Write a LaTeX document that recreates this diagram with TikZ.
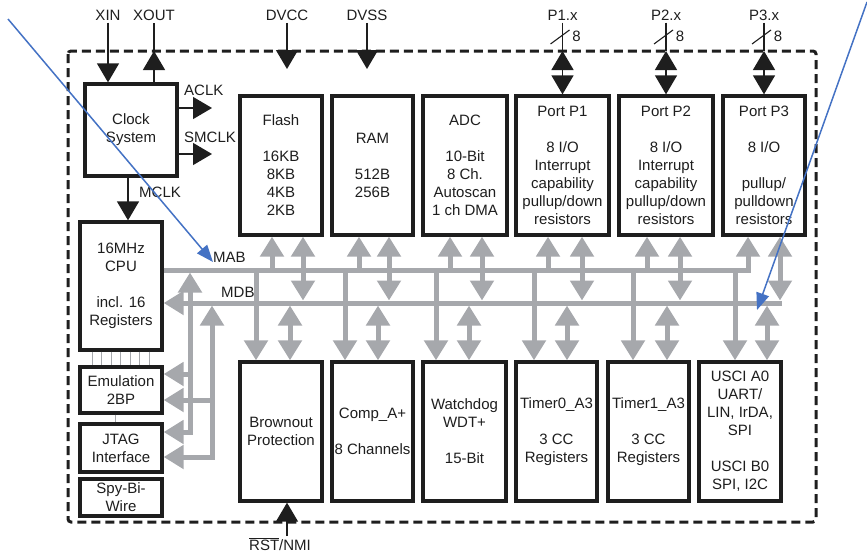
\documentclass[tikz,border=0pt]{standalone}
\usepackage{fontspec}
\setmainfont{Liberation Sans}
\usetikzlibrary{arrows.meta}
\definecolor{ink}{RGB}{30,30,30}
\definecolor{busgray}{RGB}{166,168,172}
\definecolor{notecol}{RGB}{68,114,196}
\begin{document}
\begin{tikzpicture}[x=1pt,y=-1pt,
  font=\fontsize{15}{18}\selectfont,
  every node/.style={text=ink},
  block/.style={draw=ink, fill=white, line width=3.3pt, inner sep=0pt, align=center},
  sig/.style={draw=ink, line width=1.4pt},
  bus/.style={draw=busgray, line width=5pt, line join=miter},
  note/.style={draw=notecol, line width=1.5pt, -{Triangle[width=13pt,length=17pt]}},
  tipb/.tip={Triangle[width=22pt,length=19pt]},
  tipg/.tip={Triangle[width=23pt,length=20pt]},
  lbl/.style={anchor=base, inner sep=2pt},
  lblw/.style={anchor=base west, inner sep=0pt}]
\useasboundingbox (0,0) rectangle (867,552);

% chip outline
\draw[ink, line width=3pt, dash pattern=on 9pt off 5pt, rounded corners=3pt] (68,51) rectangle (816,522);
\coordinate (edge) at (0,51);
\coordinate (feed) at (0,69);

% left column
\node[block, minimum width=92pt, minimum height=92pt] (clk) at (131,130) {Clock\\System};
\node[block, minimum width=82pt, minimum height=128pt] (cpu) at (121,286) {16MHz\\CPU\\~\\incl. 16\\Registers};
\node[block, minimum width=82pt, minimum height=46pt] (emu) at (121,390) {Emulation\\2BP};
\node[block, minimum width=82pt, minimum height=48pt] (jtag) at (121,448) {JTAG\\Interface};
\node[block, minimum width=82pt, minimum height=37pt] (sbw) at (121,497.5) {Spy-Bi-\\Wire};

% upper row of peripherals
\node[block, minimum width=82pt, minimum height=139pt] (flash) at (281,165.5) {Flash\\~\\16KB\\8KB\\4KB\\2KB};
\node[block, minimum width=81pt, minimum height=139pt] (ram) at (372.5,165.5) {RAM\\~\\512B\\256B};
\node[block, minimum width=84pt, minimum height=139pt] (adc) at (465,165.5) {ADC\\~\\10-Bit\\8 Ch.\\Autoscan\\1 ch DMA};
\node[block, minimum width=93pt, minimum height=139pt] (p1) at (562.5,165.5) {Port P1\\~\\8 I/O\\Interrupt\\capability\\pullup/down\\resistors};
\node[block, minimum width=94pt, minimum height=139pt] (p2) at (666,165.5) {Port P2\\~\\8 I/O\\Interrupt\\capability\\pullup/down\\resistors};
\node[block, minimum width=82pt, minimum height=139pt] (p3) at (764,165.5) {Port P3\\~\\8 I/O\\~\\pullup/\\pulldown\\resistors};

% lower row of peripherals
\node[block, minimum width=82pt, minimum height=139pt] (bo) at (281,431.5) {Brownout\\Protection};
\node[block, minimum width=81pt, minimum height=139pt] (comp) at (372.5,431.5) {Comp\_A+\\~\\8 Channels};
\node[block, minimum width=83pt, minimum height=139pt] (wdt) at (464.5,431.5) {Watchdog\\WDT+\\~\\15-Bit};
\node[block, minimum width=81pt, minimum height=139pt] (tza) at (556.5,431.5) {Timer0\_A3\\~\\3 CC\\Registers};
\node[block, minimum width=81pt, minimum height=139pt] (toa) at (648.5,431.5) {Timer1\_A3\\~\\3 CC\\Registers};
\node[block, minimum width=82pt, minimum height=139pt] (usci) at (740,431.5) {USCI A0\\UART/\\LIN, IrDA,\\SPI\\~\\USCI B0\\SPI, I2C};

% pin labels
\node[lbl] (xin) at (108,20.5) {XIN};
\node[lbl] (xout) at (154,20.5) {XOUT};
\node[lbl] (dvcc) at (287,20.5) {DVCC};
\node[lbl] (dvss) at (367,20.5) {DVSS};
\node[lbl] (p1x) at (562.5,20.5) {P1.x};
\node[lbl] (p2x) at (666,20.5) {P2.x};
\node[lbl] (p3x) at (764,20.5) {P3.x};
\node[lbl] (rst) at (280,550) {$\overline{\mbox{RST}}$/NMI};
\node[lblw] (aclk) at (184,95.5) {ACLK};
\node[lblw] (smclk) at (184,142.5) {SMCLK};
\node[lblw] (mclk) at (139,197.5) {MCLK};
\node[lblw] (mab) at (213,262.5) {MAB};
\node[lblw] (mdb) at (221,297.5) {MDB};

% clock and supply signals
\draw[sig, -{tipb}] (xin.south) -- (xin.south |- clk.north);
\draw[sig] (xout.south |- clk.north) -- (xout.south);
\draw[sig, -{tipb}] (xout.south |- clk.north) -- (xout.south |- edge);
\draw[sig, -{tipb}] (dvcc.south) -- (dvcc.south |- feed);
\draw[sig, -{tipb}] (dvss.south) -- (dvss.south |- feed);
\coordinate (aclkout) at (212,108);
\coordinate (smclkout) at (212,154);
\draw[sig, -{tipb}] (clk.east |- aclkout) -- (aclkout);
\draw[sig, -{tipb}] (clk.east |- smclkout) -- (smclkout);
\draw[sig, -{tipb}] (clk.south -| 128,0) -- (cpu.north -| 128,0);
\coordinate (rstin) at (287,536);
\draw[sig, -{tipb}] (rstin) -- (rstin |- bo.south);

% port pins, 8 bits wide
\foreach \p/\lab/\x in {p1/p1x/562.5, p2/p2x/666, p3/p3x/764} {
  \draw[sig] (\lab.south) -- (\lab.south |- edge);
  \draw[sig, {tipb}-{tipb}] (\lab.south |- edge) -- (\lab.south |- \p.north);
  \draw[ink, line width=1.1pt] (\x-12,44) -- (\x+7,30);
  \node[inner sep=0pt] at (\x+14,36) {8};
}

% address and data buses
\draw[bus, -{tipg}] (cpu.east |- 0,270) -- (748,270) -- (748,0 |- p3.south);
\draw[bus, -{tipg}] (782,303) -- (cpu.east |- 0,303);
\foreach \n/\a in {flash/272, ram/359, adc/450, p1/548, p2/647} {
  \draw[bus, -{tipg}] (\a,270) -- (\a,0 |- \n.south);
}
\foreach \n/\b in {flash/303, ram/389, adc/482, p1/582, p2/680, p3/780} {
  \draw[bus, {tipg}-{tipg}] (\b,0 |- \n.south) -- (\b,300.5);
}
\foreach \n/\a/\b in {bo/256/290, comp/345/378, wdt/436/469, tza/534/567, toa/633/667, usci/735/767} {
  \draw[bus, -{tipg}] (\a,270) -- (\a,0 |- \n.north);
  \draw[bus, {tipg}-{tipg}] (\b,305.5) -- (\b,0 |- \n.north);
}

% debug access to the buses
\draw[bus, {tipg}-{tipg}] (jtag.east |- 0,432) -- (190,432) -- (190,272.5);
\draw[bus, {tipg}-{tipg}] (jtag.east |- 0,457) -- (212,457) -- (212,305.5);
\draw[bus, -{tipg}] (190,374) -- (emu.east |- 0,374);
\draw[bus, -{tipg}] (212,400) -- (emu.east |- 0,400);

% CPU to emulation links
\foreach \x in {92,101.5,111,120.5,130,139.5,149} {
  \draw[busgray, line width=1pt] (\x,0 |- cpu.south) -- (\x,0 |- emu.north);
}
\draw[busgray, line width=1pt] (115,0 |- emu.south) -- (115,0 |- jtag.north);

% annotation arrows
\coordinate (na) at (8,19);
\coordinate (nb) at (213,262);
\coordinate (nc) at (867,2);
\coordinate (nd) at (757,310);
\draw[note] (na) -- (nb);
\draw[note] (nc) -- (nd);
\end{tikzpicture}
\end{document}
